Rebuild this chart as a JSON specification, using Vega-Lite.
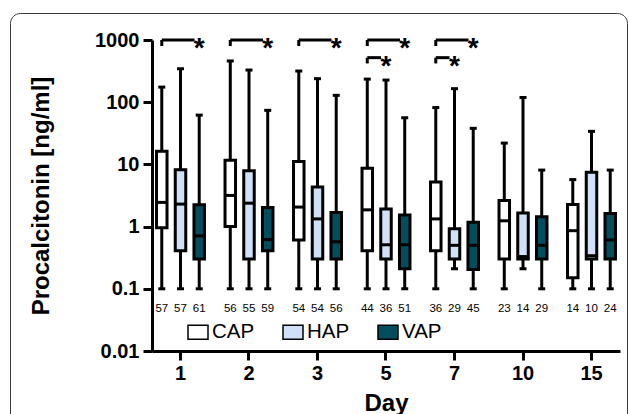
{
  "$schema": "https://vega.github.io/schema/vega-lite/v6.json",
  "width": 468,
  "height": 311,
  "autosize": "none",
  "padding": {"left": 152, "top": 40, "right": 9, "bottom": 63},
  "background": "white",
  "config": {
    "view": {"stroke": null},
    "font": "Liberation Sans",
    "axis": {
      "domainColor": "black",
      "domainWidth": 3,
      "tickColor": "black",
      "tickWidth": 3,
      "tickSize": 9,
      "labelColor": "black",
      "labelFont": "Liberation Sans",
      "labelFontWeight": "bold",
      "labelFontSize": 20,
      "titleColor": "black",
      "titleFont": "Liberation Sans",
      "titleFontWeight": "bold",
      "titleFontSize": 24,
      "grid": false
    }
  },
  "datasets": {
    "boxes": [
      {"Day": "1", "Group": "CAP", "min": 0.1, "q1": 0.96, "median": 2.45, "q3": 16.3, "max": 175, "n": 57},
      {"Day": "1", "Group": "HAP", "min": 0.1, "q1": 0.41, "median": 2.3, "q3": 8.2, "max": 345, "n": 57},
      {"Day": "1", "Group": "VAP", "min": 0.1, "q1": 0.3, "median": 0.71, "q3": 2.24, "max": 62, "n": 61},
      {"Day": "2", "Group": "CAP", "min": 0.1, "q1": 1.0, "median": 3.17, "q3": 11.7, "max": 460, "n": 56},
      {"Day": "2", "Group": "HAP", "min": 0.1, "q1": 0.3, "median": 2.38, "q3": 7.9, "max": 329, "n": 55},
      {"Day": "2", "Group": "VAP", "min": 0.1, "q1": 0.41, "median": 0.62, "q3": 2.03, "max": 74, "n": 59},
      {"Day": "3", "Group": "CAP", "min": 0.1, "q1": 0.61, "median": 2.06, "q3": 11.1, "max": 317, "n": 54},
      {"Day": "3", "Group": "HAP", "min": 0.1, "q1": 0.3, "median": 1.33, "q3": 4.35, "max": 239, "n": 54},
      {"Day": "3", "Group": "VAP", "min": 0.1, "q1": 0.3, "median": 0.57, "q3": 1.69, "max": 129, "n": 56},
      {"Day": "5", "Group": "CAP", "min": 0.1, "q1": 0.41, "median": 1.86, "q3": 8.7, "max": 235, "n": 44},
      {"Day": "5", "Group": "HAP", "min": 0.1, "q1": 0.3, "median": 0.51, "q3": 1.91, "max": 227, "n": 36},
      {"Day": "5", "Group": "VAP", "min": 0.1, "q1": 0.21, "median": 0.51, "q3": 1.53, "max": 56, "n": 51},
      {"Day": "7", "Group": "CAP", "min": 0.1, "q1": 0.41, "median": 1.33, "q3": 5.2, "max": 82, "n": 36},
      {"Day": "7", "Group": "HAP", "min": 0.21, "q1": 0.3, "median": 0.5, "q3": 0.92, "max": 165, "n": 29},
      {"Day": "7", "Group": "VAP", "min": 0.1, "q1": 0.205, "median": 0.5, "q3": 1.18, "max": 38, "n": 45},
      {"Day": "10", "Group": "CAP", "min": 0.1, "q1": 0.3, "median": 1.24, "q3": 2.63, "max": 22, "n": 23},
      {"Day": "10", "Group": "HAP", "min": 0.21, "q1": 0.3, "median": 0.33, "q3": 1.65, "max": 119, "n": 14},
      {"Day": "10", "Group": "VAP", "min": 0.1, "q1": 0.3, "median": 0.5, "q3": 1.44, "max": 8.1, "n": 29},
      {"Day": "15", "Group": "CAP", "min": 0.1, "q1": 0.15, "median": 0.86, "q3": 2.27, "max": 5.7, "n": 14},
      {"Day": "15", "Group": "HAP", "min": 0.1, "q1": 0.3, "median": 0.34, "q3": 7.5, "max": 34, "n": 10},
      {"Day": "15", "Group": "VAP", "min": 0.1, "q1": 0.3, "median": 0.61, "q3": 1.63, "max": 8.1, "n": 24}
    ],
    "sig": [
      {"Day": "1", "from": "CAP", "to": "VAP", "level": "top"},
      {"Day": "2", "from": "CAP", "to": "VAP", "level": "top"},
      {"Day": "3", "from": "CAP", "to": "VAP", "level": "top"},
      {"Day": "5", "from": "CAP", "to": "VAP", "level": "top"},
      {"Day": "7", "from": "CAP", "to": "VAP", "level": "top"},
      {"Day": "5", "from": "CAP", "to": "HAP", "level": "low"},
      {"Day": "7", "from": "CAP", "to": "HAP", "level": "low"}
    ]
  },
  "encoding": {
    "x": {
      "field": "Day",
      "type": "ordinal",
      "scale": {"domain": ["1", "2", "3", "5", "7", "10", "15"], "paddingInner": 0.18, "paddingOuter": 0.006},
      "axis": {"title": "Day", "labelAngle": 0, "labelPadding": 3, "titlePadding": 8}
    }
  },
  "layer": [
    {
      "data": {"name": "boxes"},
      "mark": {"type": "rule", "strokeWidth": 3, "color": "black"},
      "encoding": {
        "xOffset": {"field": "Group", "type": "nominal", "scale": {"domain": ["CAP", "HAP", "VAP"], "paddingInner": 0, "paddingOuter": 0}},
        "y": {
          "field": "min", "type": "quantitative",
          "scale": {"type": "log", "domain": [0.01, 1000]},
          "title": "Procalcitonin [ng/ml]",
          "axis": {"values": [0.01, 0.1, 1, 10, 100, 1000], "format": "~g", "labelPadding": 4, "titlePadding": 41}
        },
        "y2": {"field": "max"}
      }
    },
    {
      "data": {"name": "boxes"},
      "mark": {"type": "tick", "thickness": 3, "size": 7, "color": "black", "opacity": 1},
      "encoding": {
        "xOffset": {"field": "Group", "type": "nominal"},
        "y": {"field": "min", "type": "quantitative", "title": "Procalcitonin [ng/ml]"}
      }
    },
    {
      "data": {"name": "boxes"},
      "mark": {"type": "tick", "thickness": 3, "size": 7, "color": "black", "opacity": 1},
      "encoding": {
        "xOffset": {"field": "Group", "type": "nominal"},
        "y": {"field": "max", "type": "quantitative", "title": "Procalcitonin [ng/ml]"}
      }
    },
    {
      "data": {"name": "boxes"},
      "mark": {"type": "bar", "width": 10.5, "stroke": "black", "strokeWidth": 3},
      "encoding": {
        "xOffset": {"field": "Group", "type": "nominal"},
        "y": {"field": "q1", "type": "quantitative", "title": "Procalcitonin [ng/ml]"},
        "y2": {"field": "q3"},
        "fill": {
          "field": "Group", "type": "nominal",
          "scale": {"domain": ["CAP", "HAP", "VAP"], "range": ["#ffffff", "#cfe0f7", "#034e5e"]},
          "legend": {
            "title": null, "orient": "none", "legendX": 35, "legendY": 281,
            "direction": "horizontal", "columns": 3,
            "symbolType": "M-1,-0.7H1V0.7H-1Z", "symbolSize": 400,
            "symbolStrokeColor": "black", "symbolStrokeWidth": 1.5, "symbolOpacity": 1,
            "labelFont": "Liberation Sans", "labelFontSize": 20.5, "labelColor": "black",
            "labelOffset": 3, "columnPadding": 25
          }
        }
      }
    },
    {
      "data": {"name": "boxes"},
      "mark": {"type": "tick", "thickness": 3, "size": 11, "color": "black", "opacity": 1},
      "encoding": {
        "xOffset": {"field": "Group", "type": "nominal"},
        "y": {"field": "median", "type": "quantitative", "title": "Procalcitonin [ng/ml]"}
      }
    },
    {
      "data": {"name": "boxes"},
      "mark": {"type": "text", "fontSize": 11.5, "color": "black", "baseline": "middle"},
      "encoding": {
        "xOffset": {"field": "Group", "type": "nominal"},
        "y": {"datum": 0.048, "type": "quantitative"},
        "text": {"field": "n", "type": "quantitative"},
        "stroke": {
          "field": "n", "type": "quantitative",
          "scale": {"range": ["transparent", "transparent"]},
          "legend": {
            "title": null, "orient": "none", "legendX": -142, "legendY": -27,
            "direction": "vertical", "gradientLength": 430, "gradientThickness": 615,
            "gradientStrokeWidth": 0, "labelExpr": "''", "labelOffset": 0, "labelFontSize": 1,
            "padding": 1, "strokeColor": "#3a3a3a", "cornerRadius": 10
          }
        }
      }
    },
    {
      "data": {"name": "sig"},
      "transform": [{"filter": "datum.level == 'top'"}],
      "mark": {"type": "rule", "strokeWidth": 3, "color": "black", "x2Offset": 14},
      "encoding": {
        "xOffset": {"field": "from", "type": "nominal"},
        "x2": {"field": "Day"},
        "y": {"datum": 1000, "type": "quantitative"}
      }
    },
    {
      "data": {"name": "sig"},
      "transform": [{"filter": "datum.level == 'top'"}],
      "mark": {"type": "rule", "strokeWidth": 3, "color": "black"},
      "encoding": {
        "xOffset": {"field": "from", "type": "nominal"},
        "y": {"datum": 1000, "type": "quantitative"},
        "y2": {"datum": 800}
      }
    },
    {
      "data": {"name": "sig"},
      "transform": [{"filter": "datum.level == 'top'"}],
      "mark": {"type": "text", "text": "*", "fontSize": 28, "fontWeight": "bold", "color": "black", "baseline": "alphabetic", "dy": 17},
      "encoding": {
        "xOffset": {"field": "to", "type": "nominal"},
        "y": {"datum": 1000, "type": "quantitative"}
      }
    },
    {
      "data": {"name": "sig"},
      "transform": [{"filter": "datum.level == 'low'"}],
      "mark": {"type": "rule", "strokeWidth": 3, "color": "black", "x2Offset": -5},
      "encoding": {
        "xOffset": {"field": "from", "type": "nominal"},
        "x2": {"field": "Day"},
        "y": {"datum": 520, "type": "quantitative"}
      }
    },
    {
      "data": {"name": "sig"},
      "transform": [{"filter": "datum.level == 'low'"}],
      "mark": {"type": "rule", "strokeWidth": 3, "color": "black"},
      "encoding": {
        "xOffset": {"field": "from", "type": "nominal"},
        "y": {"datum": 520, "type": "quantitative"},
        "y2": {"datum": 420}
      }
    },
    {
      "data": {"name": "sig"},
      "transform": [{"filter": "datum.level == 'low'"}],
      "mark": {"type": "text", "text": "*", "fontSize": 28, "fontWeight": "bold", "color": "black", "baseline": "alphabetic", "dy": 17},
      "encoding": {
        "xOffset": {"field": "to", "type": "nominal"},
        "y": {"datum": 520, "type": "quantitative"}
      }
    }
  ]
}
